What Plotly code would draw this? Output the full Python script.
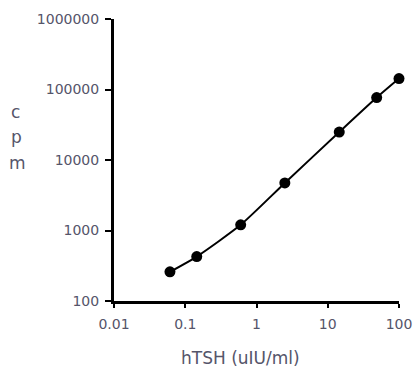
import plotly.graph_objects as go

conc = [0.061, 0.145, 0.6, 2.5, 14.5, 48.6, 100]
cpm = [259, 427, 1205, 4730, 24900, 76800, 143000]
x_ticks = [0.01, 0.1, 1, 10, 100]
x_tick_labels = ["0.01", "0.1", "1", "10", "100"]
y_ticks = [100, 1000, 10000, 100000, 1000000]
y_tick_labels = ["100", "1000", "10000", "100000", "1000000"]

W, H = 416, 369
L, R, T, B = 114, 17, 19, 68
PW, PH = W - L - R, H - T - B


def px(xp):
    return (xp - L) / PW


def py(yp):
    return (T + PH - yp) / PH


txt = "#55556a"
fam = "DejaVu Sans, sans-serif"
fig = go.Figure()
fig.add_trace(go.Scatter(
    x=conc, y=cpm, mode="lines+markers",
    line=dict(color="black", width=2, shape="spline", smoothing=0.6),
    marker=dict(color="black", size=11, symbol="circle"),
    showlegend=False, cliponaxis=False, hoverinfo="skip",
))

annots = []
for ch, xp, yp in [("c", 15.5, 112), ("p", 16, 137), ("m", 17, 163)]:
    annots.append(dict(text=ch, x=px(xp), y=py(yp), xref="paper", yref="paper",
                       showarrow=False, xanchor="center", yanchor="middle",
                       font=dict(family=fam, size=17, color=txt)))
annots.append(dict(text="hTSH (uIU/ml)", x=px(240), y=py(358), xref="paper", yref="paper",
                   showarrow=False, xanchor="center", yanchor="middle",
                   font=dict(family=fam, size=17, color=txt)))

fig.update_layout(
    template="none",
    width=W, height=H, autosize=False,
    margin=dict(l=L, r=R, t=T, b=B, pad=0, autoexpand=False),
    paper_bgcolor="white", plot_bgcolor="white",
    font=dict(family=fam, size=14, color=txt),
    xaxis=dict(type="log", range=[-2, 2.0], tickvals=x_ticks, ticktext=x_tick_labels,
               automargin=False, ticklabelstandoff=4,
               showline=True, linecolor="black", linewidth=3, ticks="outside",
               ticklen=4, tickwidth=2, tickcolor="black", showgrid=False, zeroline=False),
    yaxis=dict(type="log", range=[2, 6], tickvals=y_ticks, ticktext=y_tick_labels,
               automargin=False, ticklabelstandoff=3,
               showline=True, linecolor="black", linewidth=3, ticks="outside",
               ticklen=6, tickwidth=2, tickcolor="black", showgrid=False, zeroline=False),
    annotations=annots,
)
fig.write_html("out.html",
               config={"displayModeBar": False, "responsive": False},
               post_script="document.body.style.margin='0';document.body.style.overflow='hidden';")
